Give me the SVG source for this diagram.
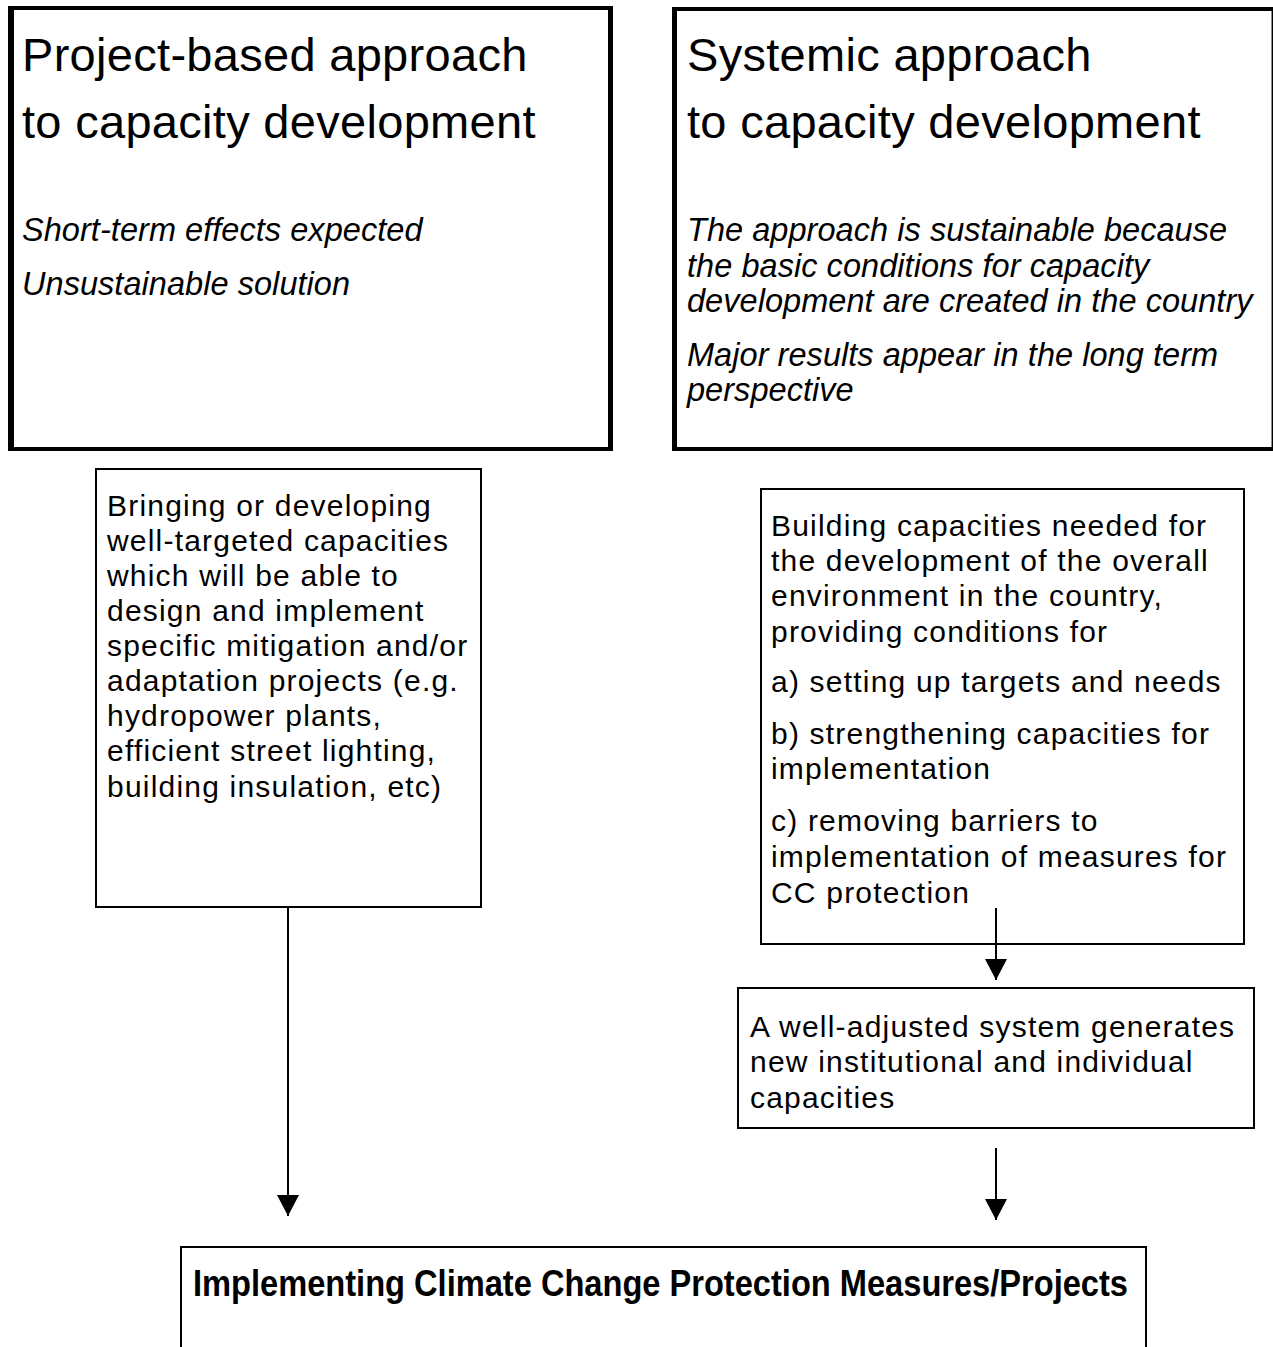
<svg xmlns="http://www.w3.org/2000/svg" width="1273" height="1347" viewBox="0 0 1273 1347">
<style>
  text { font-family: "Liberation Sans", Arial, sans-serif; fill: #000; }
  .title { font-size: 47px; letter-spacing: 0.3px; }
  .it { font-size: 32.5px; font-style: italic; letter-spacing: 0.05px; }
  .body { font-size: 30px; letter-spacing: 1.2px; }
  .bold { font-size: 36px; font-weight: bold; }
  .edge { stroke: #000; fill: none; }
  .box { fill: #fff; stroke: #000; stroke-width: 2; }
  .conn { stroke: #000; stroke-width: 2; fill: none; marker-end: url(#arrow); }
</style>
<defs>
  <marker id="arrow" viewBox="0 0 21 22" refX="21" refY="11" markerWidth="21" markerHeight="22" markerUnits="userSpaceOnUse" orient="auto">
    <path d="M0,0 L21,11 L0,22 Z" fill="#000"/>
  </marker>
</defs>
<rect width="1273" height="1347" fill="#fff"/>

<g id="project-based">
  <line class="edge" x1="11" y1="6" x2="11" y2="451" stroke-width="6"/>
  <line class="edge" x1="8" y1="8" x2="613" y2="8" stroke-width="4"/>
  <line class="edge" x1="610.5" y1="6" x2="610.5" y2="451" stroke-width="5"/>
  <line class="edge" x1="8" y1="449" x2="613" y2="449" stroke-width="4"/>
  <text class="title" x="22" y="71">Project-based approach</text>
  <text class="title" x="22" y="138">to capacity development</text>
  <text class="it" x="22" y="241">Short-term effects expected</text>
  <text class="it" x="22" y="295">Unsustainable solution</text>
</g>

<g id="systemic">
  <line class="edge" x1="674.5" y1="7" x2="674.5" y2="451" stroke-width="5"/>
  <line class="edge" x1="672" y1="9" x2="1273" y2="9" stroke-width="4"/>
  <line class="edge" x1="1272.3" y1="7" x2="1272.3" y2="451" stroke-width="1.5"/>
  <line class="edge" x1="672" y1="449" x2="1273" y2="449" stroke-width="4"/>
  <text class="title" x="687" y="71">Systemic approach</text>
  <text class="title" x="687" y="138">to capacity development</text>
  <text class="it" x="687" y="241">The approach is sustainable because</text>
  <text class="it" x="687" y="277">the basic conditions for capacity</text>
  <text class="it" x="687" y="312">development are created in the country</text>
  <text class="it" x="687" y="366">Major results appear in the long term</text>
  <text class="it" x="687" y="401">perspective</text>
</g>

<g id="bringing">
  <rect class="box" x="96" y="469" width="385" height="438"/>
  <text class="body" x="107" y="516">Bringing or developing</text>
  <text class="body" x="107" y="551">well-targeted capacities</text>
  <text class="body" x="107" y="586">which will be able to</text>
  <text class="body" x="107" y="621">design and implement</text>
  <text class="body" x="107" y="656">specific mitigation and/or</text>
  <text class="body" x="107" y="691">adaptation projects (e.g.</text>
  <text class="body" x="107" y="726">hydropower plants,</text>
  <text class="body" x="107" y="761">efficient street lighting,</text>
  <text class="body" x="107" y="797">building insulation, etc)</text>
</g>

<g id="building">
  <rect class="box" x="761" y="489" width="483" height="455"/>
  <text class="body" x="771" y="536">Building capacities needed for</text>
  <text class="body" x="771" y="571">the development of the overall</text>
  <text class="body" x="771" y="606">environment in the country,</text>
  <text class="body" x="771" y="642">providing conditions for</text>
  <text class="body" x="771" y="692">a) setting up targets and needs</text>
  <text class="body" x="771" y="744">b) strengthening capacities for</text>
  <text class="body" x="771" y="779">implementation</text>
  <text class="body" x="771" y="831">c) removing barriers to</text>
  <text class="body" x="771" y="867">implementation of measures for</text>
  <text class="body" x="771" y="903">CC protection</text>
</g>

<g id="well-adjusted">
  <rect class="box" x="738" y="988" width="516" height="140"/>
  <text class="body" x="750" y="1037">A well-adjusted system generates</text>
  <text class="body" x="750" y="1072">new institutional and individual</text>
  <text class="body" x="750" y="1108">capacities</text>
</g>

<g id="implementing">
  <rect class="box" x="181" y="1247" width="965" height="120"/>
  <text class="bold" x="193" y="1296" textLength="935" lengthAdjust="spacingAndGlyphs">Implementing Climate Change Protection Measures/Projects</text>
</g>

<g id="connectors">
  <line class="conn" x1="288" y1="908" x2="288" y2="1216"/>
  <line class="conn" x1="996" y1="908" x2="996" y2="980"/>
  <line class="conn" x1="996" y1="1148" x2="996" y2="1220"/>
</g>
</svg>
